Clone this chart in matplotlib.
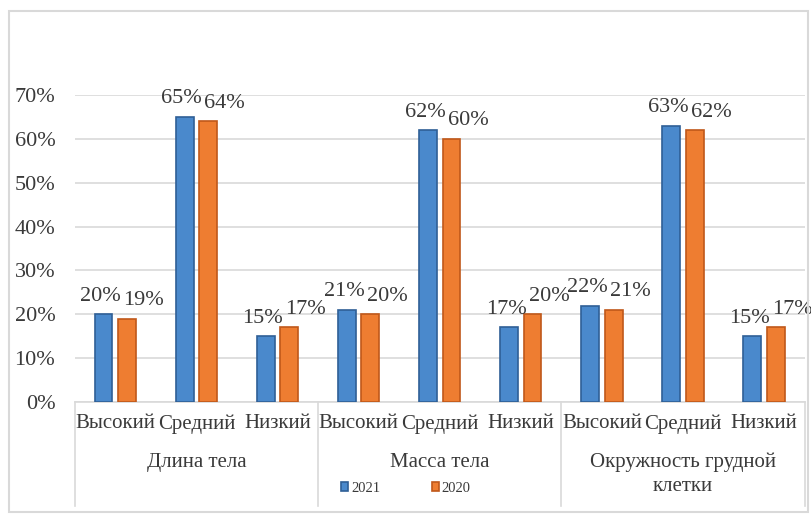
import matplotlib.pyplot as plt
from matplotlib.patches import Rectangle
import numpy as np

plt.rcParams['font.family'] = ['Liberation Serif', 'DejaVu Serif']

groups = ["Длина тела", "Масса тела", "Окружность грудной\nклетки"]
levels = ["Высокий", "Средний", "Низкий"]
years = ["2021", "2020"]
values_2021 = [20, 65, 15, 21, 62, 17, 22, 63, 15]
values_2020 = [19, 64, 17, 20, 60, 20, 21, 62, 17]

blue = '#4a89cc'
blue_edge = '#2f5f96'
orange = '#ee7d31'
orange_edge = '#c0581a'
text_col = '#3a3a3a'
grid_col = '#d9d9d9'

fig = plt.figure(figsize=(8.12, 5.14), dpi=100)
ax = fig.add_axes([0.092, 0.218, 0.899, 0.597])

x = np.arange(len(values_2021))
w = 0.22
off = 0.145
b1 = ax.bar(x - off, values_2021, w, color=blue, edgecolor=blue_edge, linewidth=1.2, label=years[0], zorder=3)
b2 = ax.bar(x + off, values_2020, w, color=orange, edgecolor=orange_edge, linewidth=1.2, label=years[1], zorder=3)

# value labels; the 2020 ones are pushed a bit to the right
for xi, v in zip(x, values_2021):
    ax.annotate(f"{v}%", (xi - off, v), xytext=(-2, 13), textcoords='offset points',
                ha='center', va='center', fontsize=16, color=text_col)
for xi, v in zip(x, values_2020):
    ax.annotate(f"{v}%", (xi + off, v), xytext=(12, 13), textcoords='offset points',
                ha='center', va='center', fontsize=16, color=text_col)

ax.set_xlim(-0.5, len(x) - 0.5)
ax.set_ylim(0, 70)
ax.set_yticks(range(0, 71, 10))
ax.set_yticklabels([f"{t}%" for t in range(0, 71, 10)], fontsize=16, color=text_col)
ax.yaxis.grid(True, color=grid_col, linewidth=1.2, zorder=0)
ax.tick_params(axis='y', length=0, pad=14)
ax.set_xticks(x)
ax.set_xticklabels(levels * 3, fontsize=15, color=text_col)
ax.tick_params(axis='x', length=0, pad=9)
for s in ['top', 'right', 'left']:
    ax.spines[s].set_visible(False)
ax.spines['bottom'].set_color(grid_col)
ax.spines['bottom'].set_linewidth(1.2)

# group names and separators below the category axis
trans = ax.get_xaxis_transform()
for i, g in enumerate(groups):
    ax.text(i * 3 + 1, -0.166, g, transform=trans, ha='center', va='top',
            fontsize=15, color=text_col, linespacing=1.3)
for b in [-0.5, 2.5, 5.5, 8.5]:
    ax.plot([b, b], [0, -0.34], transform=trans, color=grid_col, linewidth=1.2, clip_on=False)

leg = fig.legend(handles=[b1, b2], labels=years, loc='center', bbox_to_anchor=(0.5, 0.05),
                 ncol=2, frameon=False, fontsize=10.5, handlelength=0.5, handleheight=0.5,
                 handletextpad=0.2, columnspacing=3.5)
for t in leg.get_texts():
    t.set_color(text_col)

# outer chart border
fig.patches.append(Rectangle((0.011, 0.004), 0.984, 0.974, transform=fig.transFigure,
                             fill=False, edgecolor=grid_col, linewidth=1.5))

fig.savefig('out.png', dpi=100)
